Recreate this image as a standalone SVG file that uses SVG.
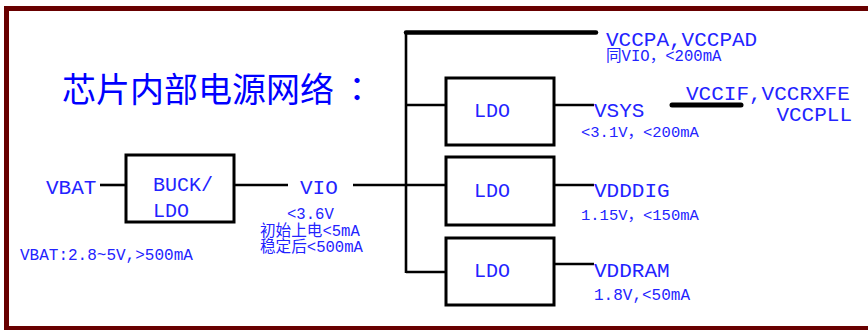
<svg xmlns="http://www.w3.org/2000/svg" width="868" height="330" viewBox="0 0 868 330">
<style>
.frame{fill:none;stroke:#680000;stroke-width:5}
.box{fill:#fff;stroke:#000;stroke-width:3}
.ln{stroke:#000;stroke-width:2.6;fill:none}
.thick{stroke:#000;stroke-width:4.5;stroke-linecap:round;fill:none}
.title{font-family:"Noto Sans CJK SC","Noto Sans",sans-serif;font-size:34px;fill:#0000ff}
.big{font-family:"Liberation Mono","Noto Sans CJK SC",monospace;font-size:21px;fill:#2323ff}
.sm{font-family:"Liberation Mono","Noto Sans CJK SC",monospace;font-size:16px;fill:#2323ff}
</style>
<rect class="frame" x="6.5" y="8.5" width="900" height="320"/>
<text class="title" x="62" y="102">芯片内部电源网络<tspan x="340" style="font-family:'Noto Sans CJK TC','Noto Sans CJK JP',sans-serif">：</tspan></text>
<g id="connectors">
<line class="thick" x1="406" y1="32.5" x2="596" y2="32.5"/>
<line class="ln" x1="406" y1="32" x2="406" y2="273"/>
<line class="ln" x1="406" y1="105" x2="446" y2="105"/>
<line class="ln" x1="353" y1="185" x2="446" y2="185"/>
<line class="ln" x1="406" y1="272" x2="446" y2="272"/>
<line class="ln" x1="554" y1="105" x2="594" y2="105"/>
<line class="ln" x1="554" y1="185" x2="594" y2="185"/>
<line class="ln" x1="554" y1="264" x2="594" y2="264"/>
<line class="ln" x1="100" y1="185" x2="126" y2="185"/>
<line class="ln" x1="234" y1="185" x2="288" y2="185"/>
<line class="thick" x1="672" y1="105" x2="741" y2="105" style="stroke-width:5"/>
</g>
<g id="buck">
<rect class="box" x="126" y="155" width="108" height="67"/>
<text class="big" x="153" y="191" style="font-size:20px">BUCK/</text>
<text class="big" x="153" y="217" style="font-size:20px">LDO</text>
</g>
<g id="ldo1">
<rect class="box" x="446" y="78" width="108" height="67"/>
<text class="big" x="474" y="117" style="font-size:20px">LDO</text>
</g>
<g id="ldo2">
<rect class="box" x="446" y="157" width="108" height="68"/>
<text class="big" x="474" y="197" style="font-size:20px">LDO</text>
</g>
<g id="ldo3">
<rect class="box" x="446" y="238" width="108" height="67"/>
<text class="big" x="474" y="277" style="font-size:20px">LDO</text>
</g>
<g id="vbat">
<text class="big" x="46" y="194">VBAT</text>
<text class="sm" x="20" y="260">VBAT:2.8~5V,&gt;500mA</text>
</g>
<g id="vio">
<text class="big" x="300" y="194">VIO</text>
<text class="sm" x="287" y="219" style="font-size:15.6px">&lt;3.6V</text>
<text class="sm" x="260" y="236" style="font-size:15.6px">初始上电&lt;5mA</text>
<text class="sm" x="260" y="252" style="font-size:15.6px">稳定后&lt;500mA</text>
</g>
<g id="vccpa">
<text class="big" x="606" y="46">VCCPA,VCCPAD</text>
<text class="sm" x="606" y="61" style="font-size:15.6px">同VIO，&lt;200mA</text>
</g>
<g id="vsys">
<text class="big" x="594" y="117">VSYS</text>
<text class="sm" x="581" y="137" style="font-size:15.5px">&lt;3.1V，&lt;200mA</text>
</g>
<g id="vccif">
<text class="big" x="686" y="100">VCCIF,VCCRXFE</text>
<text class="big" x="852" y="121" text-anchor="end">VCCPLL</text>
</g>
<g id="vdddig">
<text class="big" x="594" y="197">VDDDIG</text>
<text class="sm" x="581" y="220" style="font-size:15.5px">1.15V，&lt;150mA</text>
</g>
<g id="vddram">
<text class="big" x="594" y="277">VDDRAM</text>
<text class="sm" x="594" y="300">1.8V,&lt;50mA</text>
</g>
</svg>
